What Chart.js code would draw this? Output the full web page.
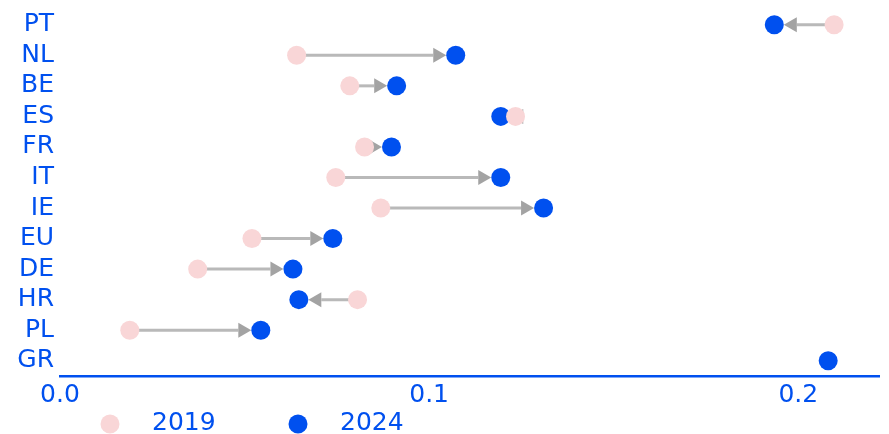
<!DOCTYPE html>
<html>
<head>
<meta charset="utf-8">
<script src="https://cdn.jsdelivr.net/npm/chart.js@4/dist/chart.umd.min.js"></script>
<style>
  html, body { margin: 0; padding: 0; background: #fff; }
  #wrap { width: 889px; height: 434px; position: relative; }
</style>
</head>
<body>
<div id="wrap"><canvas id="dumbbell"></canvas></div>
<script>
const countries = ['PT', 'NL', 'BE', 'ES', 'FR', 'IT', 'IE', 'EU', 'DE', 'HR', 'PL', 'GR'];
const share2019 = [0.2097, 0.0641, 0.0785, 0.1234, 0.0825, 0.0747, 0.0869, 0.0520, 0.0373, 0.0806, 0.0189, null];
const share2024 = [0.1935, 0.1072, 0.0912, 0.1194, 0.0898, 0.1194, 0.1310, 0.0739, 0.0631, 0.0647, 0.0544, 0.2081];
const xTicks = [0.0, 0.1, 0.2];
const xTickLabels = ['0.0', '0.1', '0.2'];
const seriesNames = ['2019', '2024'];

const BLUE = '#0050ef';
const PINK = '#f9d6d7';
const FONT = 'DejaVu Sans';
const DOT_R = 9.5;

const toPoints = vals => vals.map((v, i) => ({ x: v, y: countries[i] })).filter(p => p.x !== null);

// grey arrows from the 2019 dot to the 2024 dot, drawn under the dots
const arrowPlugin = {
    id: 'arrows',
    beforeDatasetsDraw(chart) {
        const { ctx, scales: { x, y } } = chart;
        ctx.save();
        countries.forEach((c, i) => {
            if (share2019[i] === null || share2024[i] === null) return;
            const x0 = x.getPixelForValue(share2019[i]);
            const x1 = x.getPixelForValue(share2024[i]);
            const py = y.getPixelForValue(i);
            const dir = Math.sign(x1 - x0);
            const tip = x1 - dir * DOT_R;
            const head = 13;
            const base = tip - dir * head;
            ctx.strokeStyle = '#b9b9b9';
            ctx.lineWidth = 3;
            ctx.beginPath();
            ctx.moveTo(x0, py);
            ctx.lineTo(base, py);
            ctx.stroke();
            ctx.fillStyle = '#a3a3a3';
            ctx.beginPath();
            ctx.moveTo(tip, py);
            ctx.lineTo(base, py - 7.5);
            ctx.lineTo(base, py + 7.5);
            ctx.closePath();
            ctx.fill();
        });
        ctx.restore();
    },
    // legend row along the bottom
    afterDraw(chart) {
        const { ctx } = chart;
        const items = [
            { label: chart.data.datasets[0].label, color: PINK, dot: 110, text: 152 },
            { label: chart.data.datasets[1].label, color: BLUE, dot: 298, text: 340 }
        ];
        ctx.save();
        ctx.font = `25px "${FONT}"`;
        ctx.textBaseline = 'middle';
        items.forEach(it => {
            ctx.fillStyle = it.color;
            ctx.beginPath();
            ctx.arc(it.dot, 424, DOT_R, 0, Math.PI * 2);
            ctx.fill();
            ctx.fillStyle = BLUE;
            ctx.fillText(it.label, it.text, 423);
        });
        ctx.restore();
    }
};

new Chart(document.getElementById('dumbbell'), {
    type: 'scatter',
    data: {
        datasets: [
            {
                label: seriesNames[0],
                data: toPoints(share2019),
                backgroundColor: PINK,
                borderWidth: 0,
                pointRadius: DOT_R
            },
            {
                label: seriesNames[1],
                data: toPoints(share2024),
                backgroundColor: BLUE,
                borderWidth: 0,
                pointRadius: DOT_R
            }
        ]
    },
    options: {
        responsive: true,
        maintainAspectRatio: false,
        animation: false,
        layout: { padding: { top: 5, right: 7, left: 0, bottom: 0 } },
        scales: {
            x: {
                type: 'linear',
                min: 0,
                max: 0.222,
                grid: { display: false, drawTicks: false },
                border: { display: true, color: BLUE, width: 2.5 },
                afterBuildTicks: scale => { scale.ticks = xTicks.map(v => ({ value: v })); },
                afterFit: scale => {
                    scale.height = 58;
                    scale.paddingLeft = 0;
                    scale.paddingRight = 0;
                },
                ticks: {
                    color: BLUE,
                    padding: 4,
                    font: { family: FONT, size: 25 },
                    callback: (v) => xTickLabels[xTicks.indexOf(v)]
                }
            },
            y: {
                type: 'category',
                labels: countries,
                offset: true,
                grid: { display: false, drawTicks: false },
                border: { display: false },
                afterFit: scale => {
                    scale.width = 60;
                    scale.paddingTop = 0;
                    scale.paddingBottom = 0;
                },
                ticks: {
                    color: BLUE,
                    padding: 6,
                    autoSkip: false,
                    font: { family: FONT, size: 25 }
                }
            }
        },
        plugins: {
            legend: { display: false },
            tooltip: { enabled: false }
        }
    },
    plugins: [arrowPlugin]
});
</script>
</body>
</html>
